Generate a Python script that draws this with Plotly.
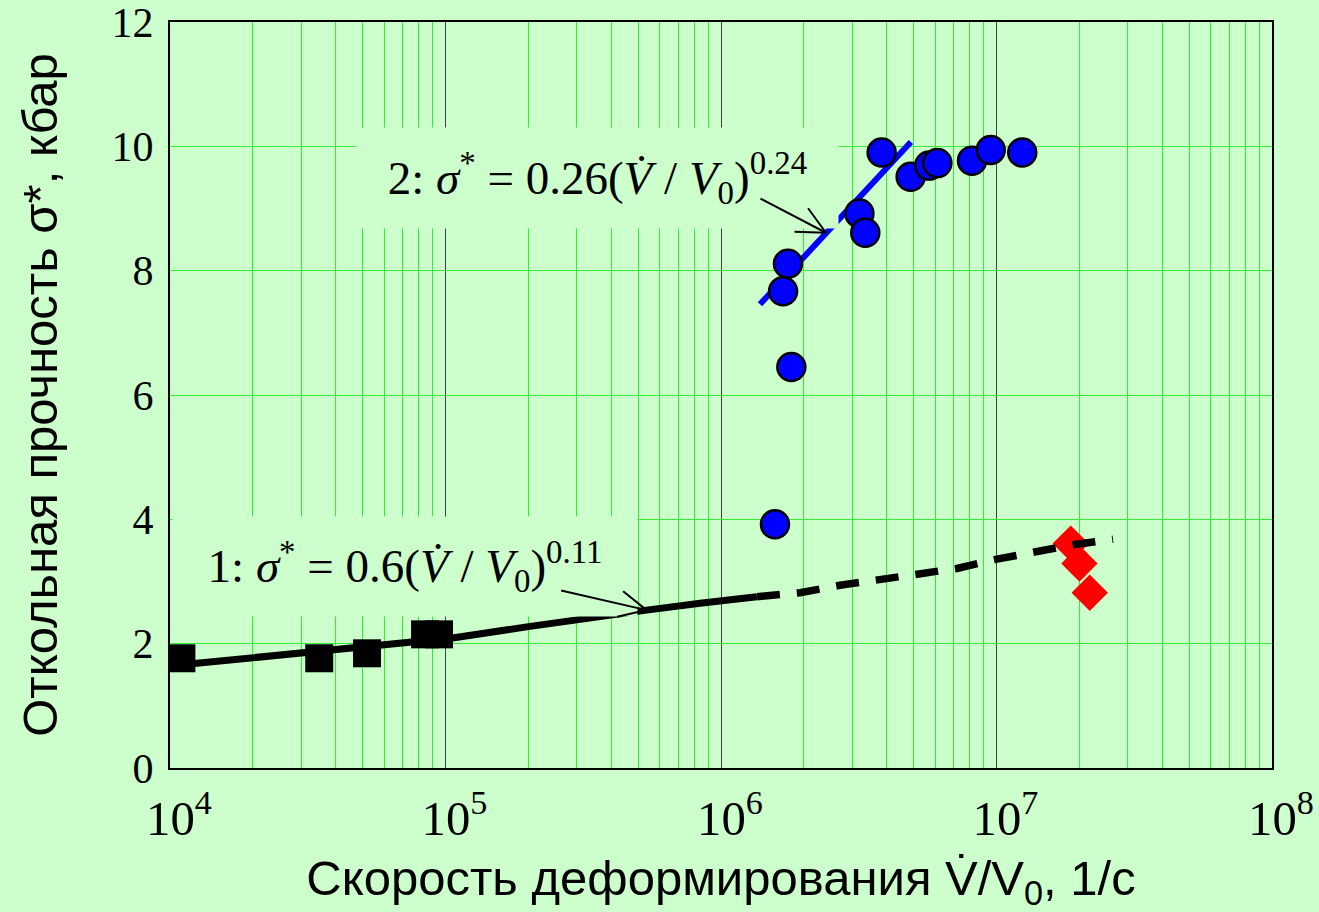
import plotly.graph_objects as go

# ---- data ----
circle_x = [1.57e6, 1.80e6, 1.68e6, 1.75e6, 3.18e6, 3.34e6, 3.83e6, 4.88e6, 5.7e6, 6.1e6, 8.15e6, 9.53e6, 1.24e7]
circle_y = [3.92, 6.45, 7.67, 8.11, 8.92, 8.61, 9.90, 9.51, 9.69, 9.73, 9.77, 9.94, 9.90]

square_x = [1.10e4, 3.48e4, 5.19e4, 8.43e4, 9.47e4]
square_y = [1.765, 1.765, 1.845, 2.15, 2.15]

diamond_x = [1.86e7, 2.0e7, 2.18e7]
diamond_y = [3.61, 3.29, 2.82]

fit2_x = [1.385e6, 4.89e6]
fit2_y = [7.46, 10.07]

fit1_solid_x = [1.1e4, 3.5e4, 1.06e5, 1.97e5, 2.91e5, 5.37e5, 8.4e5, 1.35e6]
fit1_solid_y = [1.66, 1.88, 2.09, 2.27, 2.38, 2.54, 2.65, 2.755]

fit1_dash_x = [1.351e6, 1.936e6, 2.704e6, 3.777e6, 5.145e6, 7.19e6, 1.004e7, 1.357e7, 1.895e7, 2.648e7]
fit1_dash_y = [2.755, 2.82, 2.94, 3.04, 3.13, 3.21, 3.36, 3.48, 3.59, 3.68]

y_ticks = [0, 2, 4, 6, 8, 10, 12]

BG = "#CCFFCC"
GRID = "#33EE33"
SERIF = "Liberation Serif, Times New Roman, serif"
SANS = "Liberation Sans, Arial, sans-serif"

fig = go.Figure()

fig.add_trace(go.Scatter(x=diamond_x, y=diamond_y, mode="markers",
                         marker=dict(symbol="diamond", size=28, color="#FF0000",
                                     line=dict(width=0)), showlegend=False))
fig.add_trace(go.Scatter(x=fit1_dash_x, y=fit1_dash_y, mode="lines",
                         line=dict(color="black", width=7.5, dash="23px,17px"),
                         showlegend=False))
fig.add_trace(go.Scatter(x=fit1_solid_x, y=fit1_solid_y, mode="lines",
                         line=dict(color="black", width=7), showlegend=False))
fig.add_trace(go.Scatter(x=square_x, y=square_y, mode="markers",
                         marker=dict(symbol="square", size=28, color="black"),
                         showlegend=False))
fig.add_trace(go.Scatter(x=fit2_x, y=fit2_y, mode="lines",
                         line=dict(color="#0000FF", width=6), showlegend=False))
fig.add_trace(go.Scatter(x=circle_x, y=circle_y, mode="markers",
                         marker=dict(symbol="circle", size=28, color="#0000FF",
                                     line=dict(color="black", width=2.5)),
                         showlegend=False))

fig.update_xaxes(type="log", range=[4, 8], dtick=1, exponentformat="power",
                 showgrid=True, gridcolor="#404040", gridwidth=1,
                 minor=dict(dtick="D1", showgrid=True, gridcolor=GRID, gridwidth=1, ticks=""),
                 showline=True, linecolor="black", linewidth=2, mirror=True,
                 ticks="", zeroline=False, ticklabeloverflow="allow", automargin=False,
                 tickfont=dict(family=SERIF, size=39, color="black"),
                 ticklabelstandoff=8, ticklabelshift=9,
                 title=dict(text="Скорость деформирования V\u0307/V<sub>0</sub>, 1/с",
                            font=dict(family=SANS, size=49, color="black"), standoff=25))
fig.update_yaxes(range=[0, 12], tickvals=y_ticks,
                 showgrid=True, gridcolor=GRID, gridwidth=1,
                 showline=True, linecolor="black", linewidth=2, mirror=True,
                 ticks="", zeroline=False, ticklabeloverflow="allow", automargin=False,
                 tickfont=dict(family=SERIF, size=42, color="black"),
                 ticklabelstandoff=6,
                 title=dict(text="Откольная прочность σ*, кбар",
                            font=dict(family=SANS, size=49, color="black"), standoff=38))

eq1 = "1: <i>σ</i><sup>*</sup> = 0.6(<i>V\u0307</i> / <i>V</i><sub>0</sub>)<sup>0.11</sup>"
eq2 = "2: <i>σ</i><sup>*</sup> = 0.26(<i>V\u0307</i> / <i>V</i><sub>0</sub>)<sup>0.24</sup>"


def arrow(tip_x, tip_y, dx, dy):
    return dict(xref="x", yref="y", x=tip_x, y=tip_y, ax=dx, ay=dy, text="",
                showarrow=True, arrowhead=0, arrowwidth=2, arrowcolor="black",
                standoff=0, startstandoff=0)


annotations = [
    dict(xref="paper", yref="paper", x=(405 - 170) / 1102, y=(768 - 566) / 746,
         xanchor="center", yanchor="middle",
         text=eq1, showarrow=False, bgcolor=BG, width=464, height=99, borderpad=0,
         font=dict(family=SERIF, size=47, color="black")),
    dict(xref="paper", yref="paper", x=(597 - 170) / 1102, y=(768 - 178) / 746,
         xanchor="center", yanchor="middle",
         text=eq2, showarrow=False, bgcolor=BG, width=481, height=100, borderpad=0,
         font=dict(family=SERIF, size=47, color="black")),
    # arrow 1 (shaft + two barbs)
    arrow(5.730, 2.54, -87, -20),
    arrow(5.730, 2.54, -25, -20),
    arrow(5.730, 2.54, -31, 7),
    # arrow 2
    arrow(6.381, 8.61, -67, -35),
    arrow(6.381, 8.61, -19, -26),
    arrow(6.381, 8.61, -33, -1),
]

fig.update_layout(width=1319, height=912, paper_bgcolor=BG, plot_bgcolor=BG,
                  margin=dict(l=170, r=47, t=22, b=144),
                  annotations=annotations, showlegend=False)

fig.write_html("out.html", config={"displayModeBar": False},
               post_script="document.body.style.margin='0px';")
